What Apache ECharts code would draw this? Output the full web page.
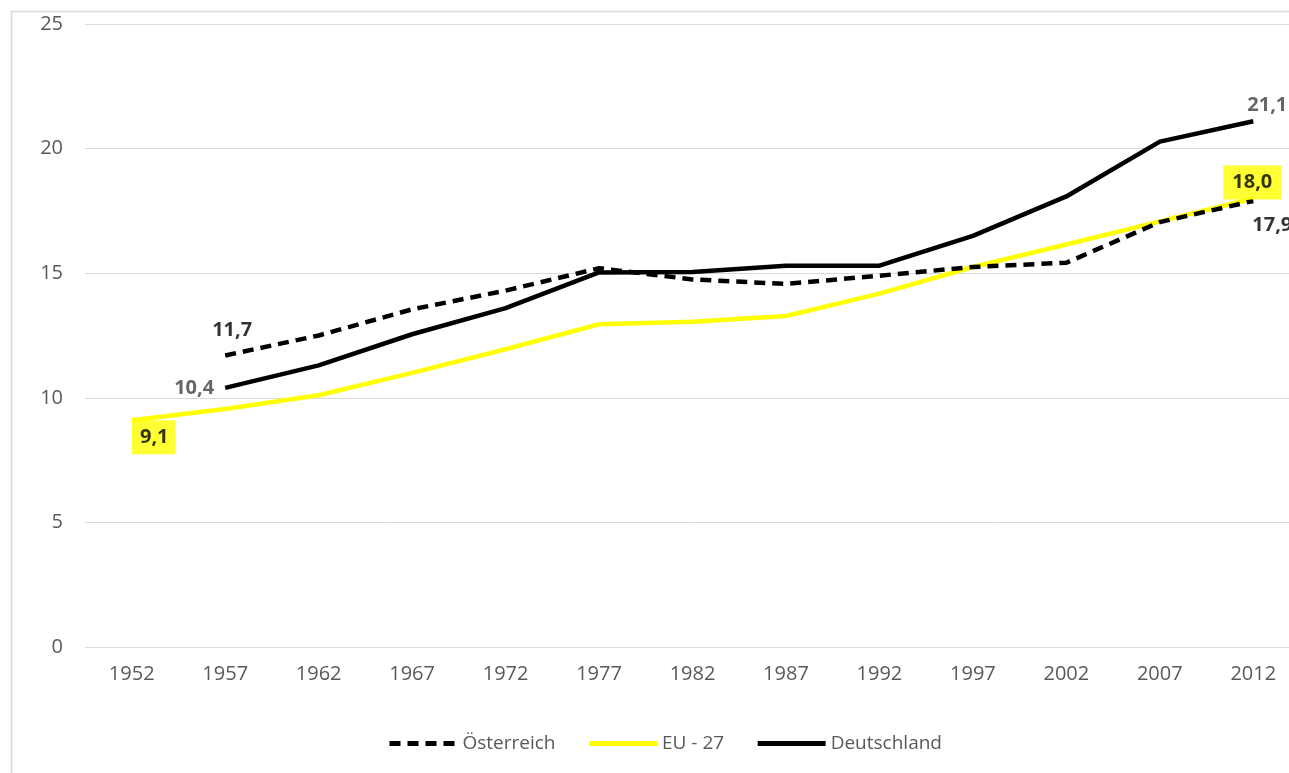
<!DOCTYPE html>
<html>
<head>
<meta charset="utf-8">
<script src="https://cdn.jsdelivr.net/npm/echarts@6/dist/echarts.min.js"></script>
<style>html,body{margin:0;padding:0;background:#fff;overflow:hidden}#c{width:1300px;height:773px}</style>
</head>
<body>
<div id="c"></div>
<script>
const years = ['1952','1957','1962','1967','1972','1977','1982','1987','1992','1997','2002','2007','2012'];
const oesterreich = [null, 11.7, 12.5, 13.55, 14.3, 15.2, 14.75, 14.57, 14.9, 15.25, 15.42, 17.05, 17.9];
const eu27 = [9.1, 9.55, 10.1, 11.0, 11.95, 12.95, 13.05, 13.28, 14.18, 15.25, 16.15, 17.08, 18.0];
const deutschland = [null, 10.4, 11.3, 12.55, 13.6, 15.03, 15.05, 15.3, 15.3, 16.5, 18.08, 20.28, 21.1];
const yTicks = [0, 5, 10, 15, 20, 25];

const FONT = 'Open Sans';
const fmt = v => v.toFixed(1).replace('.', ',');
const last = years.length - 1;

// label definitions: [series values, index, label style]
const labelDefs = [
  [oesterreich, 1, { position: 'top', distance: 13, offset: [7, 0], color: '#000' }],
  [oesterreich, last, { position: 'bottom', distance: 12, offset: [19, 0], color: '#000' }],
  [eu27, 0, { position: 'bottom', distance: 0, offset: [22, 0], color: '#000', backgroundColor: '#FFFF00', padding: [5, 7, 5, 8] }],
  [eu27, last, { position: 'top', distance: -1, offset: [-1, 0], color: '#000', backgroundColor: '#FFFF00', padding: [5, 9, 5, 9] }],
  [deutschland, 1, { position: 'left', distance: 11, color: '#404040' }],
  [deutschland, last, { position: 'top', distance: 4, offset: [14, 0], color: '#404040' }]
];
const labelData = labelDefs.map(([arr, i, lab]) => ({
  value: [i, arr[i]],
  label: Object.assign({ show: true, formatter: p => fmt(p.value[1]), fontFamily: FONT, fontWeight: 'bold', fontSize: 20, lineHeight: 24 }, lab)
}));

const chart = echarts.init(document.getElementById('c'));
chart.setOption({
  animation: false,
  backgroundColor: '#fff',
  graphic: [{ type: 'rect', left: 9, top: 9, shape: { width: 1300, height: 800 }, style: { fill: 'none', stroke: '#d9d9d9', lineWidth: 1.5 }, silent: true, z: -1 }],
  grid: { left: 85, right: 0, top: 24, bottom: 126, containLabel: false },
  xAxis: {
    type: 'category', data: years, boundaryGap: true,
    axisLine: { show: false }, axisTick: { show: false },
    axisLabel: { color: '#595959', fontFamily: FONT, fontSize: 20, margin: 17 }
  },
  yAxis: {
    type: 'value', min: 0, max: 25, interval: 5,
    axisLine: { show: false }, axisTick: { show: false },
    axisLabel: { color: '#595959', fontFamily: FONT, fontSize: 20, margin: 22, formatter: v => yTicks.includes(v) ? String(v) : '' },
    splitLine: { lineStyle: { color: '#d9d9d9', width: 1 } }
  },
  legend: {
    left: 382, top: 729, itemWidth: 68, itemHeight: 14, itemGap: 31,
    itemStyle: { opacity: 0 },
    lineStyle: { width: 5 },
    textStyle: { color: '#595959', fontFamily: FONT, fontSize: 19 },
    data: ['Österreich', 'EU - 27', 'Deutschland']
  },
  series: [
    { name: 'Österreich', type: 'line', data: oesterreich, symbol: 'none',
      lineStyle: { color: '#000', width: 4.5, type: [11, 7] }, itemStyle: { color: '#000' }, z: 3 },
    { name: 'EU - 27', type: 'line', data: eu27, symbol: 'none',
      lineStyle: { color: '#FFFF00', width: 4.5 }, itemStyle: { color: '#FFFF00' }, z: 2 },
    { name: 'Deutschland', type: 'line', data: deutschland, symbol: 'none',
      lineStyle: { color: '#000', width: 4.5 }, itemStyle: { color: '#000' }, z: 4 },
    { name: 'labels', type: 'scatter', data: labelData, symbolSize: 0, silent: true, z: 10 }
  ]
});
</script>
</body>
</html>
